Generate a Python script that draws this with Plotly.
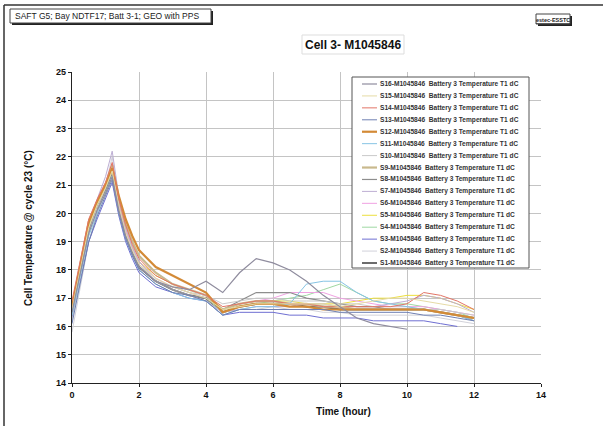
import plotly.graph_objects as go

# Sample times (hours)
time_h = [0, 0.25, 0.5, 0.75, 1.0, 1.2, 1.4, 1.6, 1.8, 2.0, 2.5, 3.0, 3.5, 4.0, 4.5,
          5.0, 5.5, 6.0, 6.5, 7.0, 7.5, 8.0, 8.5, 9.0, 9.5, 10.0, 10.5, 11.0, 11.5, 12.0]

s16 = [16.5, 17.9, 19.3, 20.1, 20.7, 21.3, 20.1, 19.2, 18.6, 18.1, 17.6, 17.4, 17.3, 17.6, 17.2,
       17.9, 18.4, 18.25, 18.0, 17.6, 17.1, 16.7, 16.3, 16.1, 16.0, 15.9, None, None, None, None]
s15 = [16.6, 18.0, 19.5, 20.3, 20.9, 21.5, 20.2, 19.3, 18.7, 18.2, 17.7, 17.4, 17.2, 17.0, 16.6,
       16.7, 16.8, 16.8, 16.8, 16.8, 16.8, 16.7, 16.8, 16.9, 17.0, 17.0, 16.9, 16.8, 16.7, 16.5]
s14 = [16.9, 18.3, 19.8, 20.5, 21.1, 21.8, 20.5, 19.6, 18.9, 18.4, 17.8, 17.5, 17.3, 17.1, 16.7,
       16.8, 16.9, 16.9, 16.8, 16.8, 16.7, 16.7, 16.7, 16.7, 16.7, 16.8, 17.2, 17.1, 16.9, 16.6]
s13 = [16.1, 17.5, 19.0, 19.9, 20.6, 21.2, 20.0, 19.1, 18.5, 18.0, 17.5, 17.2, 17.1, 16.9, 16.4,
       16.6, 16.6, 16.6, 16.6, 16.6, 16.6, 16.5, 16.5, 16.5, 16.5, 16.5, 16.4, 16.4, 16.3, 16.2]
s12 = [16.7, 18.2, 19.7, 20.4, 21.0, 21.6, 20.6, 19.8, 19.2, 18.7, 18.1, 17.8, 17.5, 17.2, 16.5,
       16.7, 16.8, 16.8, 16.7, 16.7, 16.6, 16.6, 16.6, 16.6, 16.6, 16.6, 16.6, 16.5, 16.4, 16.3]
s11 = [16.4, 17.8, 19.2, 20.0, 20.7, 21.3, 20.0, 19.1, 18.5, 18.0, 17.5, 17.2, 17.0, 16.9, 16.4,
       16.6, 16.7, 16.7, 16.8, 17.5, 17.6, 17.6, 17.2, 16.9, 16.8, 16.7, 16.6, 16.5, 16.4, 16.2]
s10 = [16.2, 17.7, 19.3, 20.2, 20.9, 21.6, 20.2, 19.3, 18.7, 18.2, 17.6, 17.4, 17.2, 17.1, 16.8,
       16.9, 17.0, 17.0, 16.9, 16.9, 16.9, 16.8, 16.8, 16.7, 16.7, 16.7, 16.6, 16.6, 16.5, 16.4]
s9 = [16.6, 18.1, 19.6, 20.4, 21.0, 21.7, 20.5, 19.6, 19.0, 18.5, 17.9, 17.5, 17.3, 17.1, 16.6,
      16.8, 16.9, 16.9, 16.8, 16.8, 16.7, 16.7, 16.6, 16.6, 16.6, 16.6, 16.6, 16.5, 16.4, 16.3]
s8 = [16.5, 17.9, 19.4, 20.2, 20.8, 21.4, 20.1, 19.2, 18.6, 18.1, 17.6, 17.3, 17.1, 17.0, 16.6,
      16.9, 17.2, 17.2, 17.2, 17.0, 16.9, 16.8, 16.7, 16.7, 16.6, 16.6, 16.6, 16.5, 16.4, 16.2]
s7 = [16.4, 18.0, 19.6, 20.5, 21.3, 22.2, 20.6, 19.5, 18.8, 18.3, 17.6, 17.3, 17.1, 16.9, 16.5,
      16.6, 16.7, 16.7, 16.7, 16.8, 16.8, 16.7, 16.7, 16.7, 16.8, 16.9, 17.1, 17.0, 16.8, 16.5]
s6 = [16.6, 18.1, 19.6, 20.4, 21.0, 21.6, 20.3, 19.4, 18.8, 18.3, 17.7, 17.4, 17.2, 17.0, 16.6,
      16.8, 16.9, 17.0, 17.2, 17.2, 17.2, 17.0, 16.9, 16.8, 16.7, 16.7, 16.7, 16.6, 16.5, 16.4]
s5 = [16.5, 18.0, 19.5, 20.3, 20.9, 21.5, 20.3, 19.4, 18.8, 18.3, 17.8, 17.5, 17.3, 17.1, 16.6,
      16.8, 16.9, 16.9, 16.9, 16.8, 16.8, 16.8, 16.9, 17.0, 17.0, 17.1, 17.1, 17.0, 16.8, 16.6]
s4 = [16.7, 18.1, 19.5, 20.3, 21.0, 21.7, 20.3, 19.4, 18.8, 18.3, 17.7, 17.4, 17.2, 17.0, 16.5,
      16.7, 16.8, 16.9, 17.0, 17.1, 17.3, 17.5, 17.2, 16.9, 16.8, 16.8, 16.7, 16.6, 16.5, 16.3]
s3 = [16.3, 17.6, 19.0, 19.8, 20.5, 21.1, 19.9, 19.0, 18.4, 17.9, 17.4, 17.2, 17.0, 16.9, 16.4,
      16.5, 16.5, 16.5, 16.4, 16.4, 16.3, 16.3, 16.3, 16.2, 16.2, 16.2, 16.2, 16.1, 16.0, None]
s2 = [15.8, 17.4, 19.0, 20.0, 21.0, 22.0, 20.4, 19.4, 18.7, 18.2, 17.6, 17.3, 17.1, 16.9, 16.5,
      16.6, 16.6, 16.7, 16.6, 16.6, 16.5, 16.5, 16.4, 16.4, 16.4, 16.4, 16.4, 16.3, 16.2, 16.1]
s1 = [16.6, 18.0, 19.4, 20.2, 20.9, 21.6, 20.1, 19.2, 18.6, 18.1, 17.6, 17.3, 17.1, 17.0, 16.5,
      16.7, 16.8, 16.8, 16.8, 16.7, 16.7, 16.6, 16.6, 16.6, 16.6, 16.6, 16.6, 16.5, 16.4, 16.3]

series_names = ["S16", "S15", "S14", "S13", "S12", "S11", "S10", "S9",
                "S8", "S7", "S6", "S5", "S4", "S3", "S2", "S1"]
series_values = [s16, s15, s14, s13, s12, s11, s10, s9, s8, s7, s6, s5, s4, s3, s2, s1]
cell_id = "M1045846"
label_suffix = "Battery 3 Temperature T1 dC"

colors = ["#8f8c9e", "#e6dba6", "#e27566", "#6f80b2", "#d38a36", "#86c4e4", "#c9c9c9", "#c9b98d",
          "#8e8e8e", "#bdaed3", "#f0a2e2", "#ecdf3c", "#9fd8a2", "#6f6fd2", "#d2d2da", "#6c6c6c"]
widths = [1.2, 1, 1, 1, 2.2, 1, 1, 2.2, 1.2, 1, 1, 1, 1, 1, 1, 2]

FONT = "Liberation Sans, Arial, sans-serif"
W, H = 603, 426
L, R, T, B = 72, 62, 72, 43
PW, PH = W - L - R, H - T - B


def px(x):
    return (x - L) / PW


def py(y):
    return (H - B - y) / PH


fig = go.Figure()

# draw S1 last so it sits on top, like the legend order suggests
for name, vals, col, w in reversed(list(zip(series_names, series_values, colors, widths))):
    fig.add_trace(go.Scatter(
        x=time_h, y=vals, mode="lines", name=f"{name}-{cell_id}",
        line=dict(color=col, width=w), showlegend=False,
        connectgaps=False,
    ))

shapes = []
annotations = []

# outer frame (left and top edges)
shapes.append(dict(type="line", xref="paper", yref="paper", x0=px(4), x1=px(4), y0=py(5), y1=py(430),
                   line=dict(color="#333333", width=1.5)))
shapes.append(dict(type="line", xref="paper", yref="paper", x0=px(4), x1=px(610), y0=py(5), y1=py(5),
                   line=dict(color="#333333", width=1.5)))

# header box with shadow
shapes.append(dict(type="rect", xref="paper", yref="paper", x0=px(12), x1=px(213), y0=py(11), y1=py(25),
                   line=dict(width=0), fillcolor="#222222"))
shapes.append(dict(type="rect", xref="paper", yref="paper", x0=px(10), x1=px(211), y0=py(9), y1=py(23),
                   line=dict(color="#444444", width=1), fillcolor="white"))
annotations.append(dict(xref="paper", yref="paper", x=px(13), y=py(16), xanchor="left", yanchor="middle",
                        text="SAFT G5; Bay NDTF17; Batt 3-1; GEO with PPS", showarrow=False,
                        font=dict(family=FONT, size=8.5, color="#222222")))

# small tag box at top right
shapes.append(dict(type="rect", xref="paper", yref="paper", x0=px(538), x1=px(572), y0=py(16), y1=py(26),
                   line=dict(width=0), fillcolor="#222222"))
shapes.append(dict(type="rect", xref="paper", yref="paper", x0=px(536), x1=px(570), y0=py(14), y1=py(24),
                   line=dict(color="#444444", width=1), fillcolor="white"))
annotations.append(dict(xref="paper", yref="paper", x=px(553), y=py(19.5), xanchor="center", yanchor="middle",
                        text="<b><u>estec-ESSTC</u></b>", showarrow=False,
                        font=dict(family=FONT, size=5.5, color="#222222")))

# chart title box
shapes.append(dict(type="rect", xref="paper", yref="paper", x0=px(302), x1=px(404), y0=py(35), y1=py(54),
                   line=dict(color="#dddddd", width=1), fillcolor="white"))
annotations.append(dict(xref="paper", yref="paper", x=px(353), y=py(44.5), xanchor="center", yanchor="middle",
                        text="<b>Cell 3- M1045846</b>", showarrow=False,
                        font=dict(family=FONT, size=12, color="#111111")))

# axis titles
annotations.append(dict(xref="paper", yref="paper", x=px(343), y=py(411), xanchor="center", yanchor="middle",
                        text="<b>Time (hour)</b>", showarrow=False,
                        font=dict(family=FONT, size=10, color="#111111")))
annotations.append(dict(xref="paper", yref="paper", x=px(28), y=py(228), xanchor="center", yanchor="middle",
                        text="<b>Cell Temperature @ cycle 23 (°C)</b>", showarrow=False, textangle=-90,
                        font=dict(family=FONT, size=10, color="#111111")))

# legend box
lx0, lx1, ly0, ly1 = 352, 529, 77, 268
shapes.append(dict(type="rect", xref="paper", yref="paper", x0=px(lx0), x1=px(lx1), y0=py(ly0), y1=py(ly1),
                   line=dict(color="#555555", width=1), fillcolor="white"))
step = (263 - 84) / 15
for i, (name, col, w) in enumerate(zip(series_names, colors, widths)):
    yy = 84 + i * step
    shapes.append(dict(type="line", xref="paper", yref="paper", x0=px(362), x1=px(377), y0=py(yy), y1=py(yy),
                       line=dict(color=col, width=w)))
    annotations.append(dict(xref="paper", yref="paper", x=px(378), y=py(yy), xanchor="left", yanchor="middle",
                            text=f"<b>{name}-{cell_id}\u00a0 {label_suffix}</b>", showarrow=False,
                            font=dict(family=FONT, size=6.6, color="#333333")))

fig.update_layout(
    width=W, height=H,
    margin=dict(l=L, r=R, t=T, b=B),
    paper_bgcolor="white", plot_bgcolor="white",
    showlegend=False,
    shapes=shapes, annotations=annotations,
    font=dict(family=FONT, color="#111111"),
    xaxis=dict(range=[0, 14], dtick=2, tick0=0, showgrid=True, gridcolor="#c4c4c4", gridwidth=1,
               showline=True, linecolor="#222222", linewidth=1.3, zeroline=False,
               ticks="outside", ticklen=3, tickcolor="#222222",
               tickfont=dict(family=FONT, size=9, weight="bold", color="#111111")),
    yaxis=dict(range=[14, 25], dtick=1, tick0=14, showgrid=True, gridcolor="#c4c4c4", gridwidth=1,
               showline=True, linecolor="#222222", linewidth=1.3, zeroline=False,
               ticks="outside", ticklen=3, tickcolor="#222222",
               tickfont=dict(family=FONT, size=9, weight="bold", color="#111111")),
)

fig.write_html("out.html")
